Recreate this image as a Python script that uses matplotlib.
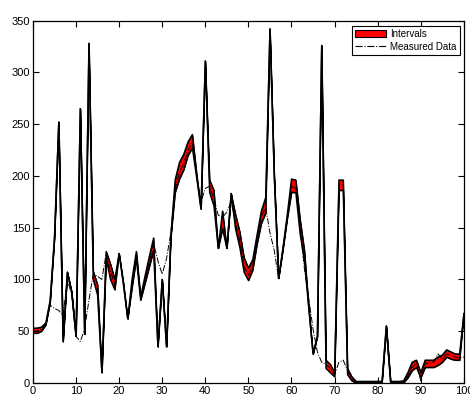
import numpy as np
import matplotlib
matplotlib.use("Agg")
import matplotlib.pyplot as plt
from matplotlib.patches import Patch
from matplotlib.lines import Line2D

x = np.arange(0, 101)

lower = [48, 48, 50, 56, 78, 140, 252, 40, 107, 88,
         45, 265, 47, 328, 100, 85, 10, 120, 100, 90,
         125, 95, 62, 92, 120, 80, 96, 112, 128, 35,
         100, 35, 140, 184, 197, 206, 220, 227, 198, 168,
         311, 184, 171, 130, 149, 130, 183, 149, 131, 107,
         99, 109, 134, 154, 164, 342, 200, 101, 128, 158,
         184, 184, 144, 118, 72, 28, 45, 326, 14, 10,
         6, 186, 186, 8, 2, 0, 0, 0, 0, 0,
         0, 0, 55, 0, 0, 0, 0, 5, 12, 15,
         5, 15, 15, 15, 17, 20, 25, 23, 22, 22,
         67]

upper = [53, 53, 54, 58, 80, 140, 252, 40, 107, 88,
         45, 265, 47, 328, 108, 95, 10, 127, 115, 100,
         125, 97, 62, 100, 127, 83, 103, 122, 140, 35,
         100, 35, 142, 196, 213, 221, 233, 240, 202, 168,
         311, 196, 186, 130, 166, 130, 183, 163, 146, 121,
         111, 119, 143, 166, 179, 342, 200, 101, 130, 162,
         197, 196, 158, 128, 74, 28, 45, 326, 22, 18,
         10, 196, 196, 14, 6, 1.5, 1.5, 1.5, 1.5, 1.5,
         1.5, 1.5, 55, 1.5, 1.5, 1.5, 2, 10, 20, 22,
         10, 22, 22, 22, 25, 27, 32, 30, 28, 28,
         67]

measured = [50, 50, 52, 57, 75, 72, 70, 65, 100, 85,
            45, 40, 52, 80, 105, 103, 100, 125, 108, 95,
            125, 96, 62, 96, 124, 82, 100, 117, 135, 118,
            105, 120, 145, 188, 203, 212, 225, 232, 200, 175,
            188, 190, 178, 162, 160, 165, 175, 155, 137, 113,
            104, 113, 138, 160, 170, 145, 128, 101, 129, 160,
            190, 188, 150, 110, 82, 52, 30, 20, 18, 14,
            8, 20, 22, 12, 4, 0, 0, 0, 0, 0,
            0, 0, 50, 0, 0, 0, 0, 7, 15, 19,
            2, 19, 19, 20, 28, 23, 28, 27, 25, 24,
            25]

xticks = list(range(0, 101, 10))
yticks = list(range(0, 351, 50))

plt.rcParams['font.family'] = ['Liberation Sans', 'DejaVu Sans']

fig = plt.figure(figsize=(4.7, 3.96), dpi=100)
ax = fig.add_axes([0.070, 0.033, 0.917, 0.915])

ax.fill_between(x, lower, upper, facecolor='#ff0000', edgecolor='black', linewidth=0.6)
ax.plot(x, lower, color='black', linewidth=1.0)
ax.plot(x, upper, color='black', linewidth=1.0)
ax.plot(x, measured, color='black', linewidth=0.7, linestyle='-.')

ax.set_xlim(0, 100)
ax.set_ylim(0, 350)
ax.set_xticks(xticks)
ax.set_yticks(yticks)
ax.tick_params(direction='in', top=True, right=True, length=4, width=0.8,
               labelsize=8, pad=2)
for s in ax.spines.values():
    s.set_linewidth(0.9)

handles = [Patch(facecolor='#ff0000', edgecolor='black', linewidth=0.8),
           Line2D([0], [0], color='black', linewidth=0.8, linestyle='-.')]
leg = ax.legend(handles, ['Intervals', 'Measured Data'], loc='upper right',
                bbox_to_anchor=(0.99, 0.985), fontsize=7, fancybox=False,
                framealpha=1, edgecolor='black', handlelength=3.2,
                borderpad=0.3, labelspacing=0.3, handletextpad=0.4,
                borderaxespad=0)
leg.get_frame().set_linewidth(0.8)

fig.savefig('out.png', dpi=100)
